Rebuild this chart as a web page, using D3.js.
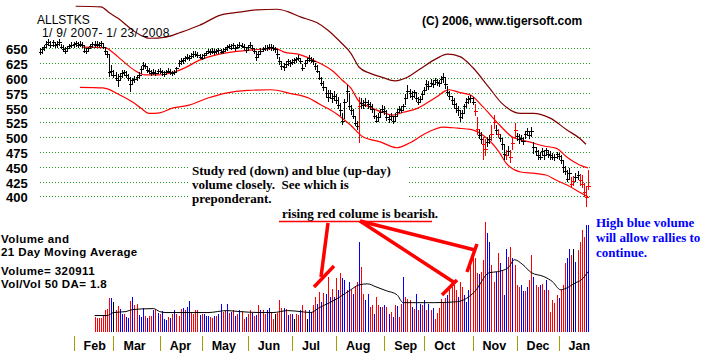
<!DOCTYPE html>
<html><head><meta charset="utf-8">
<script src="https://cdn.jsdelivr.net/npm/d3@7"></script>
<style>
html,body{margin:0;padding:0;background:#fff;}
svg{display:block;}
</style></head>
<body>
<svg id="chart" width="703" height="356"></svg>
<script>
// ---------------- DATA ----------------
const title = "ALLSTKS";
const dateRange = "1/ 9/ 2007- 1/ 23/ 2008";
const copyright = "(C) 2006, www.tigersoft.com";
const priceTicks = [400,425,450,475,500,525,550,575,600,625,650];
const priceTickLabels = ["400","425","450","475","500","525","550","575","600","625","650"];
const monthStarts = [16,35,57,77,99,120,141,164,183,206,227,247];
const monthLabels = ["Feb","Mar","Apr","May","Jun","Jul","Aug","Sep","Oct","Nov","Dec","Jan"];

// daily close / high / low, Jan 9 2007 .. Jan 23 2008 (262 trading days)
const close = [
643,648,652,658,660,656,660,655,658,661, 652,648,645,650,654,656,657,659,656,658,
655,646,645,650,654,657,655,658,656,659, 652,645,640,610,612,605,600,596,603,608,
610,605,600,590,596,598,601,605,615,622, 620,614,612,609,610,608,611,612,610,607,
610,612,610,608,610,616,625,628,630,633, 636,634,637,640,641,639,636,634,638,642,
645,644,646,643,645,647,644,646,649,652, 654,651,655,650,653,656,654,652,647,652,
656,650,645,636,641,646,648,651,650,653, 652,650,648,640,628,620,618,624,628,625,
627,630,632,634,628,616,626,630,633,631, 628,620,612,600,592,584,575,568,574,566,
570,563,555,545,528,560,578,552,546,536, 524,518,552,558,554,560,556,553,548,536,
528,534,542,548,544,534,530,535,528,536, 543,548,545,552,566,578,574,570,576,566,
560,565,572,580,590,586,592,590,596,593, 591,598,601,590,576,570,562,556,550,545,
534,540,552,560,564,566,560,544,514,504, 496,488,480,492,496,506,526,512,506,498,
488,472,470,476,466,490,512,502,496,499, 494,505,510,503,510,484,476,470,467,476,
470,478,472,470,467,466,471,468,462,450, 442,430,440,420,426,432,436,428,420,408,
398,418];
const high = [
650,652,656,662,665,662,664,660,662,665, 658,655,652,654,657,660,661,663,660,662,
660,654,650,653,658,661,662,663,660,663, 658,650,646,640,622,614,610,606,608,613,
614,612,606,602,600,603,605,610,620,627, 626,619,616,614,615,613,615,616,614,612,
614,616,615,612,614,619,630,633,634,637, 640,638,642,645,645,644,641,640,642,646,
649,648,650,648,649,651,649,650,653,656, 658,657,659,655,657,660,659,657,652,656,
661,655,650,644,646,650,652,655,656,658, 658,656,653,647,636,628,625,629,632,630,
632,634,636,638,634,624,630,634,638,636, 633,626,622,612,602,594,585,580,580,575,
578,572,568,558,540,565,588,575,554,548, 536,528,568,566,563,566,562,560,556,546,
538,540,547,554,552,545,537,540,536,540, 548,553,552,556,572,588,582,578,580,574,
568,570,578,585,596,594,598,596,600,598, 597,603,608,600,586,578,570,566,558,552,
546,546,556,566,570,571,568,556,534,512, 508,500,496,500,504,520,537,520,514,506,
496,486,478,485,478,500,524,507,505,504, 500,510,515,510,517,492,484,478,475,481,
478,481,478,476,473,472,474,473,470,460, 452,444,448,432,434,440,443,438,436,422,
418,444];
const low = [
638,640,645,650,654,650,652,650,651,654, 648,644,641,643,648,650,651,653,650,652,
650,642,641,644,648,651,650,652,651,653, 648,638,634,602,604,600,594,585,596,600,
603,600,594,576,588,592,595,598,606,614, 615,608,606,604,605,603,606,607,604,602,
605,608,605,604,605,610,618,622,624,627, 630,628,632,634,636,634,632,630,632,637,
640,639,641,638,640,641,640,641,644,646, 648,647,649,645,648,650,650,647,642,646,
650,645,640,628,634,640,643,646,645,647, 646,645,642,632,622,614,612,618,620,619,
621,624,626,628,624,611,618,625,627,626, 622,614,608,596,586,578,566,560,565,558,
561,556,548,536,520,530,560,545,538,530, 518,512,490,548,547,551,548,546,540,530,
524,526,534,540,538,528,524,528,522,528, 536,540,540,544,554,566,566,563,566,559,
554,557,565,572,580,580,584,583,588,586, 585,590,592,582,570,563,555,548,540,535,
526,530,540,550,556,558,554,536,504,496, 488,461,468,484,488,494,514,504,498,492,
478,462,461,468,456,478,498,494,488,492, 487,497,502,496,500,472,468,462,461,468,
462,468,464,461,461,460,463,462,455,440, 436,424,428,414,418,424,428,418,414,399,
382,411];
// price bars drawn in red
const redBars = [152,207,208,211,212,215,216,218,222,224,225,226,253,254,257,258,259,260,261];

// bands as [trading day, price]
const upperBand = [[20,652],[31,651],[35,642],[39,630],[45,613],[50,605],[56,605],[64,610],[69,617],
 [76,630],[84,639],[92,644],[100,647],[108,649],[112,650],[116,644],[124,639],[132,627],[140,610],
 [144,596],[148,583],[152,560],[157,551],[163,542],[168,537],[173,542],[180,549],[184,557],[189,568],
 [193,578],[195,580],[200,575],[205,571],[211,551],[219,520],[225,500],[233,492],[240,485],[246,481],
 [251,466],[257,453],[261,448]];
const lowerBand = [[19,584],[30,583],[38,571],[45,557],[48,549],[52,540],[57,541],[63,549],[71,554],
 [80,566],[88,574],[99,579],[110,580],[119,574],[128,566],[133,556],[141,540],[148,520],[154,500],
 [162,492],[170,482],[176,490],[184,507],[192,517],[199,515],[205,513],[211,503],[219,473],[222,456],
 [229,441],[235,439],[241,436],[246,427],[251,419],[257,407],[261,399]];
const outerBand = [[17,721],[29,720],[33,710],[37,701],[44,681],[48,672],[52,667],[60,669],[67,677],
 [76,689],[86,706],[95,711],[103,715],[113,716],[118,712],[124,703],[132,693],[137,681],[143,661],
 [148,642],[152,618],[157,608],[163,601],[169,595],[175,601],[181,615],[189,633],[194,640],[200,636],
 [206,618],[214,583],[220,557],[229,540],[235,540],[243,532],[251,512],[257,498],[260,488]];

// volume (thousands), trading days 26..261
const volStart = 26;
const volume = [
45,43,43,43,47,65,68,102,102,90, 65,77,70,55,55,45,43,92,105,80,
85,50,45,73,47,43,47,47,65,65, 57,55,62,40,35,45,43,55,65,55,
47,70,73,67,75,92,60,55,65,67, 50,55,53,47,47,45,43,47,47,55,
83,60,62,83,57,60,65,47,55,65, 62,40,45,55,65,57,47,50,80,
67,65,55,67,73,60,40,55,57,95, 73,73,70,50,53,53,40,55,50,65,
80,65,40,65,60,80,105,85,120,90, 117,113,167,105,130,105,163,125,177,163,
157,125,150,125,113,135,150,273,195,115, 95,115,75,80,55,105,80,75,75,80,
75,55,60,45,80,77,45,85,165,104, 100,95,75,70,113,65,85,80,95,65,85,
65,71,40,56,71,98,86,101,111,126, 136,141,126,106,151,136,111,
90,126,207,242,222,177,174,182,217,333, 298,273,202,152,182,237,207,187,111,252,
227,258,222,202,141,136,141,123,123,136, 157,232,167,141,136,143,146,126,157,126,
61,96,86,111,101,126,141,207,222,252, 232,252,212,247,273,308,288,323,323];
const volColor =
 "rrrrrrrrbk"+"rrbbrbbrbr"+"rbbbrbrrbr"+"brbbbrbrbr"+"rrbrbbrrrr"+"brbbbrrbrb"+"brrbrbrbrb"+"rrbrrbrbr"+
 "brrbbrrkrr"+"rbrbrbkrrb"+"rrkbbrrbrb"+"rbrbrbrbrb"+"brbrbrrbrr"+"bbrrbrrbrb"+"rbrbrbrrbr"+"rrbrbrbrbrb"+
 "rbrrrrrrbrrrrbrrb"+
 "bbrrrrbrrr"+"bbrrbrbrbb"+"rrbrrrbbrb"+"rrbrrbrrbr"+"rrrrbrrrbb"+"rkbrrrrbb";
// 21-day moving average of volume, [trading day, thousands]
const volMA = [[26,49],[32,49],[35,58],[41,61],[44,67],[54,70],[57,61],[60,58],[70,58],[80,58],[89,64],
 [95,61],[105,58],[111,58],[118,64],[124,61],[129,58],[133,73],[138,88],[143,106],[148,127],[152,142],
 [156,145],[160,136],[165,124],[170,112],[173,88],[180,88],[188,88],[199,91],[202,97],[207,121],
 [214,179],[218,182],[223,194],[226,218],[230,203],[234,179],[240,167],[244,152],[248,127],[250,130],
 [255,148],[258,158],[261,182]];

const volLabels = ["Volume and","21 Day Moving Average","Volume= 320911","Vol/Vol 50 DA= 1.8"];
const studyNote = ["Study red (down) and blue (up-day)","volume closely.  See which is","preponderant."];
const risingNote = "rising red colume is bearish.";
const blueNote = ["High blue volume","will allow rallies to","continue."];

// ---------------- DRAW ----------------
const svg = d3.select("#chart");
const x = d3.scaleLinear().domain([0, 261]).range([40, 588]);
const yP = d3.scaleLinear().domain([400, 650]).range([196.3, 48.3]);
const yV = d3.scaleLinear().domain([0, 400]).range([331.7, 199.7]);
const sans = "'Liberation Sans', Arial, sans-serif";
const serif = "'Liberation Serif', 'Times New Roman', serif";

svg.append("rect").attr("width",703).attr("height",356).attr("fill","#fff");

// gridlines
svg.append("g").selectAll("line").data(priceTicks).join("line")
  .attr("x1",40).attr("x2",591)
  .attr("y1",d=>Math.round(yP(d))+0.5).attr("y2",d=>Math.round(yP(d))+0.5)
  .attr("stroke","#1f9a1f").attr("stroke-width",1).attr("stroke-dasharray","1,2");

// price tick labels (clipped like the original)
const clip = svg.append("clipPath").attr("id","lblclip");
clip.append("rect").attr("x",0).attr("y",0).attr("width",40).attr("height",208);
const allTicks = priceTicks.concat([375]);
const allLabels = priceTickLabels.concat(["375"]);
svg.append("g").attr("clip-path","url(#lblclip)").selectAll("text").data(allTicks).join("text")
  .attr("x",6).attr("y",d=>yP(d)+6)
  .attr("font-family",sans).attr("font-weight","bold").attr("font-size",13)
  .text((d,i)=>allLabels[i]);

// white note box
svg.append("rect").attr("x",188).attr("y",157).attr("width",220).attr("height",50).attr("fill","#fff");

// bands
const bandLine = d3.line().x(d=>x(d[0])).y(d=>yP(d[1])).curve(d3.curveMonotoneX);
svg.append("path").attr("d",bandLine(outerBand)).attr("fill","none").attr("stroke","#800000").attr("stroke-width",1.2);
svg.append("path").attr("d",bandLine(upperBand)).attr("fill","none").attr("stroke","#ff0000").attr("stroke-width",1.2);
svg.append("path").attr("d",bandLine(lowerBand)).attr("fill","none").attr("stroke","#ff0000").attr("stroke-width",1.2);

// price bars
const redSet = new Set(redBars);
const bars = svg.append("g").attr("shape-rendering","crispEdges");
close.forEach((c,i)=>{
  const px = Math.round(x(i)) + 0.5;
  const col = redSet.has(i) ? "#ff0000" : "#000";
  bars.append("line").attr("x1",px).attr("x2",px)
    .attr("y1",yP(high[i])).attr("y2",yP(low[i])).attr("stroke",col).attr("stroke-width",1);
  const cy = Math.round(yP(c)) + 0.5;
  bars.append("line").attr("x1",px-2).attr("x2",px+2)
    .attr("y1",cy).attr("y2",cy).attr("stroke",col).attr("stroke-width",1);
});

// volume bars
const colMap = {r:"#ff0000", b:"#0000ff", k:"#000000"};
svg.append("g").attr("shape-rendering","crispEdges").selectAll("rect").data(volume).join("rect")
  .attr("x",(d,i)=>Math.round(x(volStart+i)))
  .attr("width",1)
  .attr("y",d=>Math.round(yV(d)))
  .attr("height",d=>Math.round(yV(0))-Math.round(yV(d)))
  .attr("fill",(d,i)=>colMap[volColor[i]] || "#ff0000");

// volume MA
const maLine = d3.line().x(d=>x(d[0])).y(d=>yV(d[1])).curve(d3.curveMonotoneX);
svg.append("path").attr("d",maLine(volMA)).attr("fill","none").attr("stroke","#000").attr("stroke-width",1);

// month ticks and labels
svg.append("g").attr("shape-rendering","crispEdges").selectAll("line").data(monthStarts).join("line")
  .attr("x1",d=>Math.round(x(d))+0.5).attr("x2",d=>Math.round(x(d))+0.5)
  .attr("y1",336).attr("y2",351).attr("stroke","#a0a000").attr("stroke-width",1.3);
svg.append("g").selectAll("text").data(monthStarts).join("text")
  .attr("x",d=>x(d)+10).attr("y",350)
  .attr("font-family",sans).attr("font-weight","bold").attr("font-size",12.5)
  .text((d,i)=>monthLabels[i]);

// titles
svg.append("text").attr("x",37).attr("y",23.5).attr("font-family",sans).attr("font-size",12).text(title);
svg.append("text").attr("x",42).attr("y",37).attr("font-family",sans).attr("font-size",12)
  .attr("letter-spacing",0.3).text(dateRange);
svg.append("text").attr("x",422).attr("y",25).attr("font-family",sans).attr("font-weight","bold").attr("font-size",12).text(copyright);

// volume labels
[243,256,275,288].forEach((yy,i)=>{
  svg.append("text").attr("x",1).attr("y",yy).attr("font-family",sans).attr("font-weight","bold")
    .attr("font-size",11.5).attr("letter-spacing",0.4).text(volLabels[i]);
});

// study note
studyNote.forEach((t,i)=>{
  svg.append("text").attr("x",192).attr("y",175+i*14).attr("font-family",serif)
    .attr("font-weight","bold").attr("font-size",13).style("white-space","pre").text(t);
});

// rising note and arrows
svg.append("text").attr("x",282).attr("y",218).attr("font-family",serif).attr("font-weight","bold")
  .attr("font-size",13).text(risingNote);
svg.append("line").attr("x1",279).attr("x2",432).attr("y1",221.5).attr("y2",221.5).attr("stroke","#ff0000").attr("stroke-width",1.5);
const arrows = [
  [[328,223],[321,277]], [[314,287],[334,266]],
  [[360,221],[475,250]], [[467,272],[477,244]],
  [[360,221],[455,283]], [[442,295],[457,280]]
];
svg.append("g").selectAll("line").data(arrows).join("line")
  .attr("x1",d=>d[0][0]).attr("y1",d=>d[0][1]).attr("x2",d=>d[1][0]).attr("y2",d=>d[1][1])
  .attr("stroke","#ff0000").attr("stroke-width",3.5);

// blue note
blueNote.forEach((t,i)=>{
  svg.append("text").attr("x",596).attr("y",226.5+i*15).attr("font-family",serif)
    .attr("font-weight","bold").attr("font-size",13).attr("fill","#0000ff").text(t);
});
</script>
</body></html>
